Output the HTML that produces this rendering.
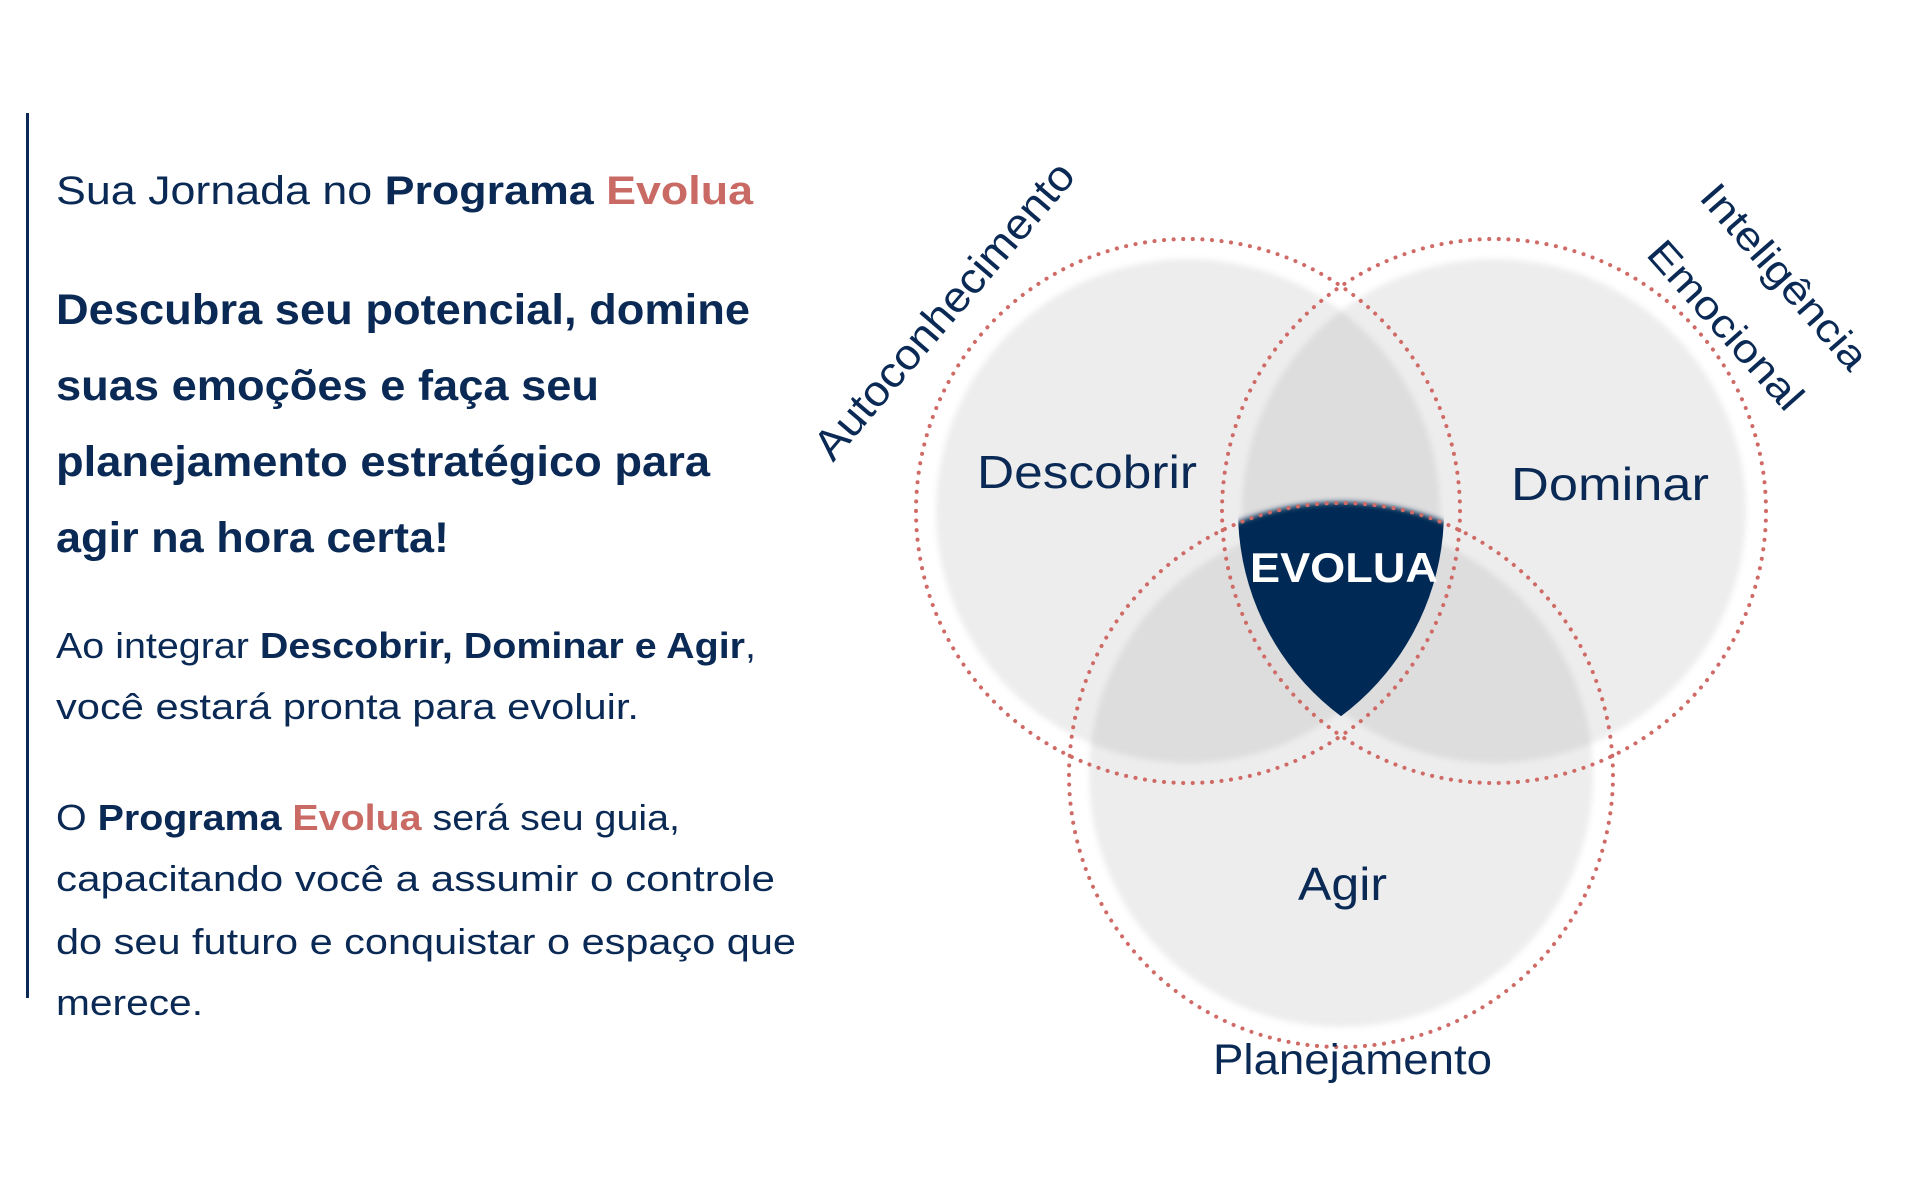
<!DOCTYPE html>
<html><head><meta charset="utf-8"><style>
html,body{margin:0;padding:0;background:#fff;}
svg{display:block;}
</style></head><body>
<svg width="1920" height="1200" viewBox="0 0 1920 1200" xmlns="http://www.w3.org/2000/svg">
<defs>
  <clipPath id="cL"><circle cx="1188" cy="511" r="256"/></clipPath>
  <clipPath id="cR"><circle cx="1494" cy="511" r="256"/></clipPath>
  <filter id="bl" x="-10%" y="-10%" width="120%" height="120%"><feGaussianBlur stdDeviation="3"/></filter>
  <filter id="bl2" x="-10%" y="-10%" width="120%" height="120%"><feGaussianBlur stdDeviation="4"/></filter>
</defs>
<rect width="1920" height="1200" fill="#fff"/>
<rect x="26" y="113" width="3" height="885" fill="#0a2a55"/>
<g font-family="Liberation Sans, sans-serif" fill="#0a2a55">
  <text x="56" y="204" font-size="40" textLength="697" lengthAdjust="spacingAndGlyphs"><tspan>Sua Jornada no </tspan><tspan font-weight="bold">Programa </tspan><tspan font-weight="bold" fill="#c96a64">Evolua</tspan></text>
  <g font-size="43" font-weight="bold">
    <text x="56" y="324" textLength="694" lengthAdjust="spacingAndGlyphs">Descubra seu potencial, domine</text>
    <text x="56" y="400" textLength="543" lengthAdjust="spacingAndGlyphs">suas emoções e faça seu</text>
    <text x="56" y="476" textLength="654" lengthAdjust="spacingAndGlyphs">planejamento estratégico para</text>
    <text x="56" y="552" textLength="393" lengthAdjust="spacingAndGlyphs">agir na hora certa!</text>
  </g>
  <g font-size="36">
    <text x="56" y="658" textLength="700" lengthAdjust="spacingAndGlyphs"><tspan>Ao integrar </tspan><tspan font-weight="bold">Descobrir, Dominar e Agir</tspan><tspan>,</tspan></text>
    <text x="56" y="719" textLength="583" lengthAdjust="spacingAndGlyphs">você estará pronta para evoluir.</text>
    <text x="56" y="830" textLength="624" lengthAdjust="spacingAndGlyphs"><tspan>O </tspan><tspan font-weight="bold">Programa </tspan><tspan font-weight="bold" fill="#c96a64">Evolua</tspan><tspan> será seu guia,</tspan></text>
    <text x="56" y="891" textLength="719" lengthAdjust="spacingAndGlyphs">capacitando você a assumir o controle</text>
    <text x="56" y="954" textLength="740" lengthAdjust="spacingAndGlyphs">do seu futuro e conquistar o espaço que</text>
    <text x="56" y="1015" textLength="147" lengthAdjust="spacingAndGlyphs">merece.</text>
  </g>
</g>
<g filter="url(#bl2)">
  <circle cx="1188" cy="511" r="256" fill="#fff"/>
  <circle cx="1494" cy="511" r="256" fill="#fff"/>
  <circle cx="1341" cy="775" r="256" fill="#fff"/>
</g>
<g fill="#000" fill-opacity="0.07" filter="url(#bl)">
  <circle cx="1188" cy="511" r="252"/>
  <circle cx="1494" cy="511" r="252"/>
  <circle cx="1341" cy="775" r="252"/>
</g>
<g clip-path="url(#cL)"><g clip-path="url(#cR)">
  <circle cx="1341" cy="782" r="280" fill="#062a55" filter="url(#bl)"/>
</g></g>
<g fill="none" stroke="#d06a66" stroke-width="4" stroke-linecap="round" stroke-dasharray="0.1 9.5">
  <circle cx="1188" cy="511" r="272"/>
  <circle cx="1494" cy="511" r="272"/>
  <circle cx="1341" cy="775" r="272"/>
</g>
<g font-family="Liberation Sans, sans-serif" fill="#0a2a55">
  <text x="977" y="488" font-size="46" textLength="220" lengthAdjust="spacingAndGlyphs">Descobrir</text>
  <text x="1511" y="500" font-size="46" textLength="198" lengthAdjust="spacingAndGlyphs">Dominar</text>
  <text x="1298" y="900" font-size="46" textLength="89" lengthAdjust="spacingAndGlyphs">Agir</text>
  <text x="1213" y="1074" font-size="43" textLength="279" lengthAdjust="spacingAndGlyphs">Planejamento</text>
  <text x="1250" y="582" font-size="42" font-weight="bold" fill="#fff" textLength="188" lengthAdjust="spacingAndGlyphs">EVOLUA</text>
  <text transform="translate(833,463) rotate(-49.5)" font-size="43" textLength="376" lengthAdjust="spacingAndGlyphs">Autoconhecimento</text>
  <text transform="translate(1698,198) rotate(49)" font-size="40" textLength="232" lengthAdjust="spacingAndGlyphs">Inteligência</text>
  <text transform="translate(1645,255) rotate(48.3)" font-size="40" textLength="212" lengthAdjust="spacingAndGlyphs">Emocional</text>
</g>
</svg>
</body></html>
